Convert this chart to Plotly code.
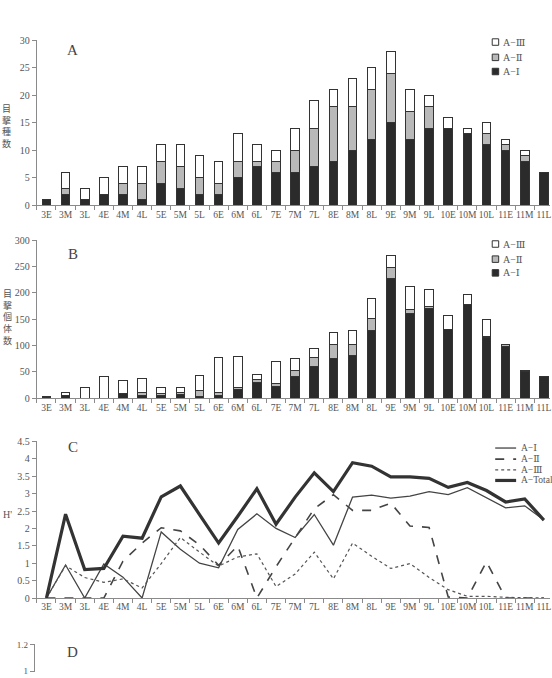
import plotly.graph_objects as go

cats = ["3E", "3M", "3L", "4E", "4M", "4L", "5E", "5M", "5L", "6E", "6M", "6L",
        "7E", "7M", "7L", "8E", "8M", "8L", "9E", "9M", "9L", "10E", "10M", "10L",
        "11E", "11M", "11L"]

# Panel A: number of species observed
spA_I = [1, 2, 1, 2, 2, 1, 4, 3, 2, 2, 5, 7, 6, 6, 7, 8, 10, 12, 15, 12, 14, 14, 13, 11, 10, 8, 6]
spA_II = [0, 1, 0, 0, 2, 3, 4, 4, 3, 2, 3, 1, 2, 4, 7, 10, 8, 9, 9, 5, 4, 0, 0, 2, 1, 1, 0]
spA_III = [0, 3, 2, 3, 3, 3, 3, 4, 4, 4, 5, 3, 2, 4, 5, 3, 5, 4, 4, 4, 2, 2, 1, 2, 1, 1, 0]

# Panel B: number of individuals observed
indB_I = [2, 6, 0, 0, 9, 6, 6, 7, 3, 6, 16, 30, 22, 42, 61, 75, 82, 129, 227, 160, 170, 131, 177, 115, 98, 50, 41]
indB_II = [0, 0, 0, 0, 0, 5, 3, 3, 11, 4, 4, 6, 6, 11, 17, 26, 19, 23, 21, 8, 4, 0, 0, 2, 4, 2, 0]
indB_III = [1, 4, 21, 41, 24, 27, 11, 11, 30, 67, 59, 9, 42, 22, 17, 23, 28, 38, 22, 44, 33, 26, 20, 33, 0, 0, 0]

# Panel C: diversity index H'
hC_I = [0, 0.95, 0, 0.98, 0.6, 0, 1.9, 1.4, 1.0, 0.87, 1.97, 2.42, 2.0, 1.74, 2.4, 1.52,
        2.9, 2.96, 2.87, 2.93, 3.06, 2.97, 3.17, 2.87, 2.59, 2.65, 2.24]
hC_II = [0, 0, 0, 0, 1.06, 1.58, 2.02, 1.93, 1.53, 0.94, 1.5, 0, 0.9, 1.72, 2.57, 2.97,
         2.52, 2.52, 2.73, 2.07, 2.03, 0.03, 0, 1.04, 0, 0, 0]
hC_III = [0, 0.93, 0.59, 0.45, 0.55, 0.29, 0.99, 1.74, 1.32, 0.92, 1.18, 1.27, 0.33, 0.69,
          1.32, 0.55, 1.58, 1.2, 0.85, 0.99, 0.59, 0.24, 0.05, 0.05, 0.02, 0.02, 0]
hC_Tot = [0, 2.41, 0.82, 0.85, 1.78, 1.72, 2.91, 3.22, 2.4, 1.58, 2.35, 3.14, 2.12, 2.9,
          3.6, 3.06, 3.89, 3.79, 3.48, 3.48, 3.44, 3.18, 3.32, 3.09, 2.76, 2.85, 2.24]

names = ["A−Ⅰ", "A−Ⅱ", "A−Ⅲ", "A−Total"]

H = 678
W = 552
def py(p):
    return 1 - p / H
def px(p):
    return p / W

BLACK = "#2b2b2b"
GRAY = "#b9b9b9"
WHITE = "#ffffff"
EDGE = "#333333"
TXT = "#555555"
SERIF = "Liberation Serif, DejaVu Serif, serif"

bar_cols = [BLACK, GRAY, WHITE]
line_styles = [dict(color="#444444", width=1.3, dash="solid"),
               dict(color="#444444", width=1.6, dash="dash"),
               dict(color="#555555", width=1.2, dash="dot"),
               dict(color="#333333", width=3.2, dash="solid")]

fig = go.Figure()

for vals, col, nm in zip([spA_I, spA_II, spA_III], bar_cols, names):
    fig.add_trace(go.Bar(x=cats, y=vals, name=nm, marker=dict(color=col, line=dict(color=EDGE, width=1)),
                         width=0.45, xaxis="x", yaxis="y", showlegend=False))
for vals, col, nm in zip([indB_I, indB_II, indB_III], bar_cols, names):
    fig.add_trace(go.Bar(x=cats, y=vals, name=nm, marker=dict(color=col, line=dict(color=EDGE, width=1)),
                         width=0.45, xaxis="x2", yaxis="y2", showlegend=False))
for vals, ln, nm in zip([hC_I, hC_II, hC_III, hC_Tot], line_styles, names):
    fig.add_trace(go.Scatter(x=cats, y=vals, name=nm, mode="lines", line=ln,
                             xaxis="x3", yaxis="y3", showlegend=False))

fig.add_trace(go.Scatter(x=[], y=[], xaxis="x4", yaxis="y4", showlegend=False))

x0 = 37 / W
axis_common = dict(showline=True, linecolor="#8a8a8a", linewidth=1, ticks="outside", ticklen=4,
                   tickcolor="#8a8a8a", tickfont=dict(family=SERIF, size=10, color=TXT),
                   showgrid=False, zeroline=False)
xcommon = dict(axis_common, type="category", tickson="boundaries", range=[-0.5, 26.32],
               domain=[x0, 1], tickangle=0, tickfont=dict(family=SERIF, size=9.5, color=TXT))

fig.update_layout(
    width=W, height=H, margin=dict(l=0, r=0, t=0, b=0),
    paper_bgcolor="white", plot_bgcolor="white", barmode="stack", showlegend=False,
    xaxis=dict(xcommon, anchor="y"),
    yaxis=dict(axis_common, anchor="x", domain=[py(203), py(35)], range=[0, 30], dtick=5),
    xaxis2=dict(xcommon, anchor="y2"),
    yaxis2=dict(axis_common, anchor="x2", domain=[py(399.3), py(238.3)], range=[0, 300], dtick=50),
    xaxis3=dict(xcommon, anchor="y3"),
    yaxis3=dict(axis_common, anchor="x3", domain=[py(602.7), py(443.3)], range=[0, 4.5], dtick=0.5),
    xaxis4=dict(domain=[35 / W, 1], anchor="y4", showline=False, showticklabels=False, ticks="",
                showgrid=False, zeroline=False, range=[0, 1]),
    yaxis4=dict(axis_common, anchor="x4", domain=[0, py(650)], range=[0.9926, 1.2],
                tickvals=[1, 1.2], ticktext=["1", "1.2"],
                tickfont=dict(family=SERIF, size=9, color=TXT)),
)

ann = []
shapes = []
def txt(text, x, y, size=10, family=SERIF, xanchor="center", color=TXT):
    ann.append(dict(text=text, x=px(x), y=py(y), xref="paper", yref="paper", showarrow=False,
                    xanchor=xanchor, yanchor="middle", font=dict(family=family, size=size, color=color)))

for letter, yy in [("A", 45), ("B", 252), ("C", 449), ("D", 658)]:
    txt(letter, 73, yy, size=15, color="#444444")
txt("目<br>撃<br>種<br>数", 7, 122, size=9, family="Noto Sans CJK JP")
txt("目<br>撃<br>個<br>体<br>数", 8, 317, size=9, family="Noto Sans CJK JP")
txt("H'", 8, 518, size=10)

# Legends for bar panels (A-III, A-II, A-I from top)
for ys in ([36.7, 52.3, 66.7], [242.3, 257.7, 271.7]):
    for yc, i in zip(ys, [2, 1, 0]):
        shapes.append(dict(type="rect", xref="paper", yref="paper",
                           x0=px(494), x1=px(500.5), y0=py(yc + 3.3), y1=py(yc - 3.3),
                           fillcolor=bar_cols[i], line=dict(color=EDGE, width=1)))
        txt(names[i], 503, yc, size=10, xanchor="left")

# Legend for line panel
for yc, i in zip([450, 461.3, 472.3, 483], [0, 1, 2, 3]):
    ls = line_styles[i]
    shapes.append(dict(type="line", xref="paper", yref="paper", x0=px(497), x1=px(518),
                       y0=py(yc), y1=py(yc), line=dict(color=ls["color"], width=ls["width"], dash=ls["dash"])))
    txt(names[i], 520.5, yc, size=9.5, xanchor="left")

fig.update_layout(annotations=ann, shapes=shapes)

fig.write_html("out.html")
